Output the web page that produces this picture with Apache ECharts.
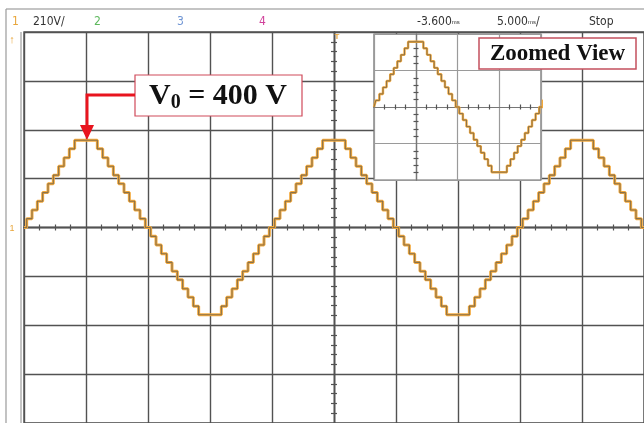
<!DOCTYPE html>
<html><head><meta charset="utf-8">
<script src="https://cdn.jsdelivr.net/npm/echarts@6/dist/echarts.min.js"></script>
<style>html,body{margin:0;padding:0;background:#fff}#c{width:644px;height:423px}</style>
</head><body><div id="c"></div>
<script>
// ---- data ----
const periodMs = 20;            // one full cycle
const waveStartMs = -25;        // left edge: rising zero crossing
const startLevelV = 0;
// times (ms from start of each cycle) at which the staircase changes level
const stepTimesMs = [0.215,0.645,1.075,1.505,1.935,2.365,2.795,3.225,3.655,4.085,
  5.915,6.345,6.775,7.205,7.635,8.065,8.495,8.925,9.355,9.785,
  10.215,10.645,11.075,11.505,11.935,12.365,12.795,13.225,13.655,14.085,
  15.915,16.345,16.775,17.205,17.635,18.065,18.495,18.925,19.355,19.785];
// level (V) held from each of those times on
const stepLevelsV = [38,75,113,150,188,225,263,300,338,375,
  338,300,263,225,188,150,113,75,38,0,
  -38,-75,-113,-150,-188,-225,-263,-300,-338,-375,
  -338,-300,-263,-225,-188,-150,-113,-75,-38,0];
const timeTicksMs = [-25,-20,-15,-10,-5,0,5,10,15,20,25];
const voltTicksV = [-840,-630,-420,-210,0,210,420,630,840];
const headerTexts = ['210V/','-3.600','5.000','Stop'];
const annotationText = '400 V';
const insetTitle = 'Zoomed View';

// ---- build the step series ----
const wave = [[waveStartMs, startLevelV]];
for (let p = 0; p < 3; p++) {
  for (let i = 0; i < stepTimesMs.length; i++) {
    const t = waveStartMs + p * periodMs + stepTimesMs[i];
    if (t < 25) wave.push([t, stepLevelsV[i]]);
  }
}
wave.push([25, wave[wave.length - 1][1]]);

const GRID = '#525252', IGRID = '#9a9a9a';
const mainX = {gridIndex:0,type:'value',min:timeTicksMs[0],max:timeTicksMs[timeTicksMs.length-1],interval:5,
  axisLine:{show:false},axisTick:{show:false},axisLabel:{show:false},
  splitLine:{show:true,lineStyle:{color:GRID,width:1.4}}};
const mainY = {gridIndex:0,type:'value',min:voltTicksV[0],max:voltTicksV[voltTicksV.length-1],interval:210,
  axisLine:{show:false},axisTick:{show:false},axisLabel:{show:false},
  splitLine:{show:true,lineStyle:{color:GRID,width:1.4}}};
function tickX(inside){return {gridIndex:0,type:'value',min:-25,max:25,interval:5,
  axisLine:{show:true,onZero:true,lineStyle:{color:GRID,width:1.4}},
  axisTick:{show:false,inside:inside},minorTick:{show:true,splitNumber:4,length:3,lineStyle:{color:GRID,width:1.2}},
  axisLabel:{show:false},splitLine:{show:false}};}
function tickY(inside){return {gridIndex:0,type:'value',min:-840,max:840,interval:210,
  axisLine:{show:true,onZero:true,lineStyle:{color:GRID,width:1.4}},
  axisTick:{show:false,inside:inside},minorTick:{show:true,splitNumber:5,length:3,lineStyle:{color:GRID,width:1.2}},
  axisLabel:{show:false},splitLine:{show:false}};}

const insetX = {gridIndex:1,type:'value',min:-25,max:-5,interval:5,z:4,
  axisLine:{show:false},axisTick:{show:false},axisLabel:{show:false},
  splitLine:{show:true,lineStyle:{color:IGRID,width:1.2}}};
const insetY = {gridIndex:1,type:'value',min:-420,max:420,interval:210,z:4,
  axisLine:{show:false},axisTick:{show:false},axisLabel:{show:false},
  splitLine:{show:true,lineStyle:{color:IGRID,width:1.2}}};
function insetTickX(inside){return {gridIndex:1,type:'value',min:-25,max:-5,interval:5,z:4,
  axisLine:{show:true,onZero:true,lineStyle:{color:'#777',width:1.2}},
  axisTick:{show:false,inside:inside},minorTick:{show:true,splitNumber:4,length:2.5,lineStyle:{color:'#555',width:1.2}},
  axisLabel:{show:false},splitLine:{show:false}};}
function insetTickY(inside){return {gridIndex:1,type:'value',min:-420,max:420,interval:210,z:4,position:'left',offset:-42,
  axisLine:{show:true,onZero:false,lineStyle:{color:'#777',width:1.2}},
  axisTick:{show:false,inside:inside},minorTick:{show:true,splitNumber:5,length:2.5,lineStyle:{color:'#555',width:1.2}},
  axisLabel:{show:false},splitLine:{show:false}};}

const serifFont = '"Liberation Serif","DejaVu Serif",serif';
const narrow = '"Liberation Sans Narrow","DejaVu Sans Condensed","Liberation Sans",sans-serif';

const chart = echarts.init(document.getElementById('c'), null, {renderer:'canvas'});
chart.setOption({
  animation:false,
  backgroundColor:'#fff',
  grid:[
    {left:24,top:32,right:-7,bottom:-3,show:true,borderColor:GRID,borderWidth:1.4,backgroundColor:'transparent'},
    {left:374,top:34,width:167,height:146,show:true,borderColor:'#6a6a6a',borderWidth:1.2,backgroundColor:'#fff',z:3}
  ],
  xAxis:[mainX,tickX(false),tickX(true),insetX,insetTickX(false),insetTickX(true)],
  yAxis:[mainY,tickY(false),tickY(true),insetY,insetTickY(false),insetTickY(true)],
  series:[
    {type:'line',xAxisIndex:0,yAxisIndex:0,step:'end',data:wave,showSymbol:false,z:2,
      lineStyle:{color:'#f3a93c',width:3}},
    {type:'line',xAxisIndex:0,yAxisIndex:0,step:'end',data:wave,showSymbol:false,z:2,
      lineStyle:{color:'#8a7148',width:1.1}},
    {type:'line',xAxisIndex:3,yAxisIndex:3,step:'end',data:wave,showSymbol:false,z:5,
      lineStyle:{color:'#f3a93c',width:2.4}},
    {type:'line',xAxisIndex:3,yAxisIndex:3,step:'end',data:wave,showSymbol:false,z:5,
      lineStyle:{color:'#8a7148',width:1}}
  ],
  graphic:[
    {type:'line',shape:{x1:6,y1:9,x2:644,y2:9},style:{stroke:'#8a8a8a',lineWidth:1.2},z:20},
    {type:'line',shape:{x1:6,y1:9,x2:6,y2:423},style:{stroke:'#9a9a9a',lineWidth:1.2},z:20},
    {type:'line',shape:{x1:21,y1:32,x2:21,y2:423},style:{stroke:'#8a8a8a',lineWidth:1},z:20},
    // header
    {type:'text',x:12,y:22,style:{text:'1',fill:'#e8a53a',font:'12px '+narrow,textVerticalAlign:'middle'},z:20},
    {type:'text',x:33,y:22,style:{text:headerTexts[0],fill:'#333',font:'12px '+narrow,textVerticalAlign:'middle'},z:20},
    {type:'text',x:94,y:22,style:{text:'2',fill:'#5cb85c',font:'12px '+narrow,textVerticalAlign:'middle'},z:20},
    {type:'text',x:177,y:22,style:{text:'3',fill:'#6f95d4',font:'12px '+narrow,textVerticalAlign:'middle'},z:20},
    {type:'text',x:259,y:22,style:{text:'4',fill:'#d0409a',font:'12px '+narrow,textVerticalAlign:'middle'},z:20},
    {type:'text',x:417,y:22,style:{text:headerTexts[1]+'{s|ms}',rich:{s:{fontSize:6,fill:'#333'}},fill:'#333',font:'12px '+narrow,textVerticalAlign:'middle'},z:20},
    {type:'text',x:497,y:22,style:{text:headerTexts[2]+'{s|ms}/',rich:{s:{fontSize:6,fill:'#333'}},fill:'#333',font:'12px '+narrow,textVerticalAlign:'middle'},z:20},
    {type:'text',x:589,y:22,style:{text:headerTexts[3],fill:'#333',font:'12px '+narrow,textVerticalAlign:'middle'},z:20},
    // markers
    {type:'text',x:12,y:40,style:{text:'↑',fill:'#e8a53a',font:'11px sans-serif',textAlign:'center',textVerticalAlign:'middle'},z:20},
    {type:'text',x:12,y:229,style:{text:'1',fill:'#e8a53a',font:'9px sans-serif',textAlign:'center',textVerticalAlign:'middle'},z:20},
    {type:'text',x:337,y:37,style:{text:'T',fill:'#e8a53a',font:'bold 8px sans-serif',textAlign:'center',textVerticalAlign:'middle'},z:20},
    // inset label
    {type:'rect',shape:{x:479,y:38,width:157,height:31},style:{fill:'#fff',stroke:'#c4505e',lineWidth:1.5},z:30},
    {type:'text',x:557.5,y:54,style:{text:insetTitle,fill:'#111',font:'bold 23px '+serifFont,textAlign:'center',textVerticalAlign:'middle'},z:31},
    // annotation
    {type:'rect',shape:{x:135,y:75,width:167,height:41},style:{fill:'#fff',stroke:'#d04a5a',lineWidth:1.2},z:30},
    {type:'text',x:218,y:96,style:{text:'{v|V}{s|0}{v| = '+annotationText+'}',textAlign:'center',textVerticalAlign:'middle',
      rich:{v:{font:'bold 30px '+serifFont,fill:'#111'},s:{font:'bold 20px '+serifFont,fill:'#111',padding:[13,0,0,0]}}},z:31},
    {type:'polyline',shape:{points:[[135,95],[87,95],[87,128]]},style:{stroke:'#e8141e',lineWidth:3,fill:null},z:30},
    {type:'polygon',shape:{points:[[80,125],[94,125],[87,140]]},style:{fill:'#e8141e'},z:30}
  ]
});
</script></body></html>
